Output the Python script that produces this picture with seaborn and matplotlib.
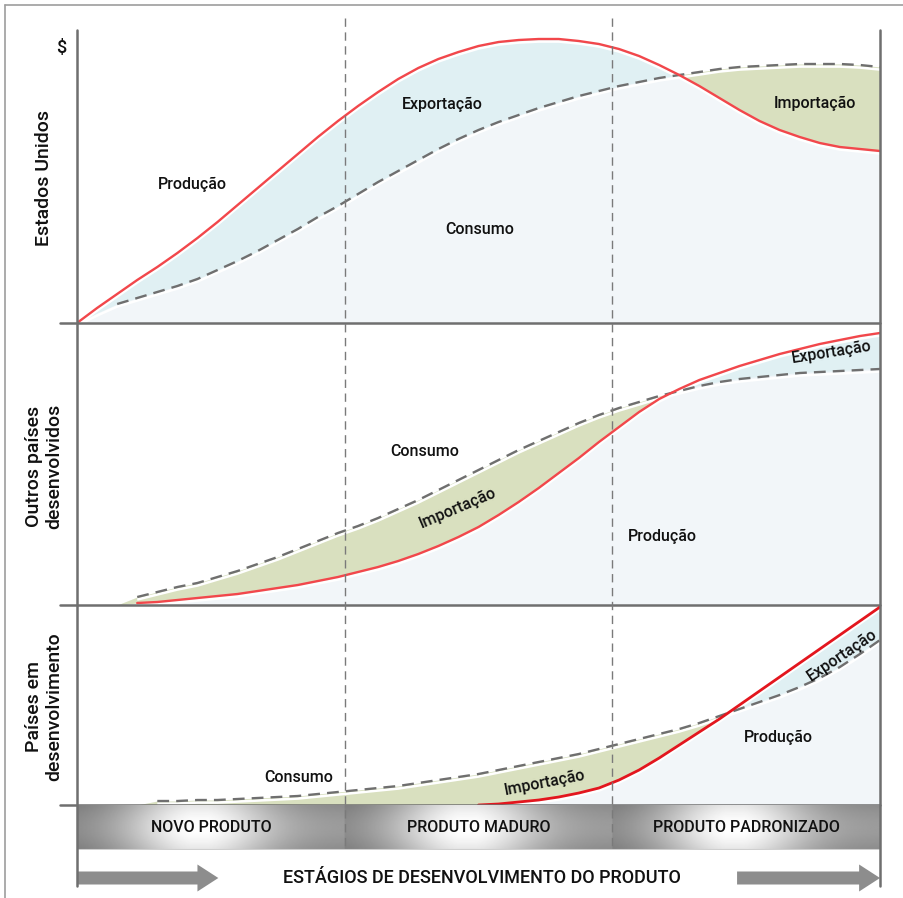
import numpy as np
import matplotlib
matplotlib.use("Agg")
import matplotlib.pyplot as plt
from matplotlib.lines import Line2D
from matplotlib.patches import FancyArrow
from matplotlib import transforms
import seaborn as sns

sns.set_style("white")
plt.rcParams['font.family'] = ['Roboto', 'DejaVu Sans']
plt.rcParams['font.weight'] = 'medium'

nan = np.nan

# position along the product life cycle (% of the horizontal axis)
stage_x = [i * 2.5 for i in range(41)]
stage_names = ['NOVO PRODUTO', 'PRODUTO MADURO', 'PRODUTO PADRONIZADO']
stage_edges = [0, 100 / 3, 200 / 3, 100]
axis_title = 'ESTÁGIOS DE DESENVOLVIMENTO DO PRODUTO'

# Estados Unidos
us_prod = [0, 15, 29, 43, 56, 70, 85, 101, 118, 135, 152, 169, 186, 202, 217, 231, 244, 255, 264, 271,
           277, 281, 283, 284, 284, 282, 279, 274, 267, 258, 248, 237, 225, 213, 202, 193, 186, 180, 176, 174, 172]
us_cons = [0, 10, 19, 25, 31, 37, 44, 53, 62, 72, 83, 94, 106, 117, 129, 141, 152, 163, 174, 184,
           193, 201, 208, 215, 221, 227, 232, 237, 241, 245, 248, 251, 254, 256, 257, 258, 259, 259, 259, 258, 256]

# Outros países desenvolvidos
dev_prod = [nan, nan, nan, 2, 3, 5, 7, 9, 11, 14, 17, 20, 24, 28, 33, 38, 44, 51, 59, 68,
            78, 90, 103, 117, 132, 147, 163, 178, 193, 206, 216, 225, 232, 239, 245, 251, 256, 261, 265, 269, 272]
dev_cons = [nan, nan, nan, 8, 13, 18, 22, 28, 34, 41, 48, 56, 64, 72, 79, 87, 96, 105, 115, 125,
            135, 145, 155, 164, 173, 182, 190, 197, 203, 209, 214, 219, 223, 226, 228, 230, 232, 233, 234, 235, 236]

# Países em desenvolvimento
ldc_prod = [nan] * 20 + [0, 1, 3, 5, 8, 12, 17, 25, 35, 47, 60, 73, 86, 100, 114, 128, 142, 156, 170, 184, 198]
ldc_cons = [nan] * 4 + [4, 4, 5, 5, 6, 7, 8, 9, 11, 13, 15, 17, 19, 22, 25, 28, 31,
                        35, 39, 43, 47, 51, 56, 61, 66, 71, 76, 82, 89, 96, 103, 110, 118, 127, 138, 151, 165]

RED = '#f2474b'
RED_DARK = '#e3161e'
GREY = '#6f6f6f'
PALE = '#f2f6f9'
BLUE = '#e0f0f3'
GREEN = '#d9e0bf'

FIG_W, FIG_H = 904, 898
X0, X1 = 77, 880


def rect(top, bottom):
    return [X0 / FIG_W, 1 - bottom / FIG_H, (X1 - X0) / FIG_W, (bottom - top) / FIG_H]


fig = plt.figure(figsize=(FIG_W / 100, FIG_H / 100), dpi=100)

panels = [
    dict(top=30, bottom=323, prod=us_prod, cons=us_cons, red=RED, dash_from=5,
         name='Estados Unidos',
         labels=[('Produção', 14.4, 139, 0), ('Exportação', 45.5, 219, 0),
                 ('Consumo', 50.2, 94, 0), ('Importação', 91.9, 220, 0)]),
    dict(top=323, bottom=605, prod=dev_prod, cons=dev_cons, red=RED, dash_from=0,
         name='Outros países\ndesenvolvidos',
         labels=[('Consumo', 43.3, 154, 0), ('Importação', 47.4, 97, 23),
                 ('Produção', 72.9, 69, 0), ('Exportação', 94.0, 253, 9)]),
    dict(top=605, bottom=805, prod=ldc_prod, cons=ldc_cons, red=RED_DARK, dash_from=0,
         name='Países em\ndesenvolvimento',
         labels=[('Consumo', 27.6, 28, 0), ('Importação', 58.3, 22, 11),
                 ('Produção', 87.4, 68, 0), ('Exportação', 95.3, 150, 34)]),
]

axes = []
for p in panels:
    ax = fig.add_axes(rect(p['top'], p['bottom']))
    axes.append(ax)
    x = np.array(stage_x)
    prod = np.array(p['prod'], dtype=float)
    cons = np.array(p['cons'], dtype=float)
    prod0 = np.nan_to_num(prod)
    cons0 = np.nan_to_num(cons)

    ax.fill_between(x, 0, cons0, color=PALE, lw=0, zorder=1)
    ax.fill_between(x, 0, prod0, color=PALE, lw=0, zorder=1)
    ax.fill_between(x, cons0, prod0, where=prod0 >= cons0, interpolate=True,
                    color=BLUE, lw=0, zorder=1)
    ax.fill_between(x, prod0, cons0, where=cons0 > prod0, interpolate=True,
                    color=GREEN, lw=0, zorder=1)

    # thin white gap under each curve
    gap = transforms.offset_copy(ax.transData, fig=fig, x=0, y=-2.6, units='dots')
    for y in (prod, cons):
        m = ~np.isnan(y)
        ax.plot(x[m], y[m], color='white', lw=1.8, transform=gap, zorder=2,
                solid_capstyle='butt')

    dash = np.where(x >= p['dash_from'], cons, nan)
    sns.lineplot(x=x, y=dash, ax=ax, color=GREY, lw=1.7, zorder=3)
    ax.lines[-1].set_dashes((5, 3))
    sns.lineplot(x=x, y=prod, ax=ax, color=p['red'],
                 lw=2.0 if p['red'] == RED_DARK else 1.7, zorder=4)

    # baseline
    ax.plot([-2.1, 100], [0, 0], color=GREY, lw=1.8, clip_on=False, zorder=6)

    for txt, tx, ty, rot in p['labels']:
        ax.text(tx, ty, txt, ha='center', va='center', rotation=rot,
                rotation_mode='anchor', fontsize=11.5, color='#111111', zorder=7)

    ax.set_xlim(0, 100)
    ax.set_ylim(0, p['bottom'] - p['top'])
    ax.set_xticks([])
    ax.set_yticks([])
    ax.set_xlabel('')
    ax.set_ylabel('')
    for s in ax.spines.values():
        s.set_visible(False)
    ax.patch.set_alpha(0)

    fig.text(44 / FIG_W, 1 - ((p['top'] + p['bottom']) / 2 + 2) / FIG_H, p['name'],
             rotation=90, ha='center', va='center', multialignment='center',
             fontsize=14, color='#111111', linespacing=1.2)

axes[0].text(-1.9, 275, '$', ha='center', va='center', fontsize=13, color='#111111')

# stage band
band = fig.add_axes(rect(805, 850))
cols = []
for i in range(3):
    t = np.linspace(0, 1, 200)
    prof = 0.52 + 0.45 * np.exp(-((t - 0.45) / 0.28) ** 2)
    prof = prof + 0.08 * t
    cols.append(np.clip(prof, 0, 1))
row = np.concatenate(cols)
v = np.linspace(0, 1, 40)[:, None]
shade = 0.9 + 0.1 * np.sin(np.pi * v)
img = np.clip(row[None, :] * shade, 0, 1)
band.imshow(img, cmap='gray', vmin=0, vmax=1, extent=(0, 100, 0, 1), aspect='auto',
            interpolation='bilinear')
for i, name in enumerate(stage_names):
    band.text((stage_edges[i] + stage_edges[i + 1]) / 2, 0.5, name, ha='center',
              va='center', fontsize=11.5, color='#111111')
band.plot([0, 100], [0.01, 0.01], color='#cfcfcf', lw=1.5)
band.set_xlim(0, 100)
band.set_ylim(0, 1)
band.axis('off')

# arrows and axis title
arr = fig.add_axes(rect(855, 898))
arr.set_xlim(0, 100)
arr.set_ylim(0, 43)
arr.axis('off')
arr.add_patch(FancyArrow(0, 20, 17.6, 0, width=13, head_width=27, head_length=2.6,
                         length_includes_head=True, color='#8d8d8d', lw=0))
arr.add_patch(FancyArrow(82.2, 20, 17.8, 0, width=13, head_width=27, head_length=2.6,
                         length_includes_head=True, color='#8d8d8d', lw=0))
arr.text(50.4, 20, axis_title, ha='center', va='center', fontsize=13, color='#111111')

# continuous vertical axes and stage dividers
bt = transforms.blended_transform_factory(axes[0].transData, fig.transFigure)
for xv in (0, 100):
    fig.add_artist(Line2D([xv, xv], [1 - 30 / FIG_H, 1 - 886 / FIG_H], transform=bt,
                          color=GREY, lw=1.8, zorder=10))
for xv in stage_edges[1:3]:
    fig.add_artist(Line2D([xv, xv], [1 - 18 / FIG_H, 1 - 850 / FIG_H], transform=bt,
                          color='#7a7a7a', lw=1.0, dashes=(6, 4), zorder=10))

# outer frame
fig.add_artist(Line2D([5 / FIG_W, 1], [1 - 5 / FIG_H] * 2, color='#9d9d9d', lw=1.2))
fig.add_artist(Line2D([5 / FIG_W] * 2, [0, 1 - 5 / FIG_H], color='#9d9d9d', lw=1.2))

fig.savefig('out.png', dpi=100)
